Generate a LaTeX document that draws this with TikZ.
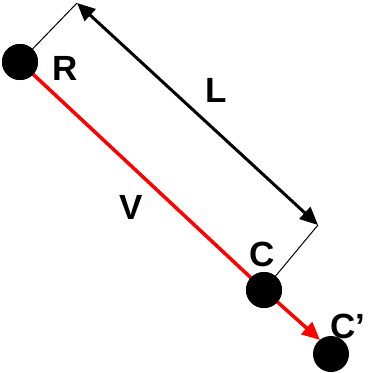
\documentclass[tikz,border=0pt]{standalone}
\usepackage{fontspec}
\setmainfont{Liberation Sans}
\usetikzlibrary{arrows.meta}
\begin{document}
\begin{tikzpicture}[x=1pt,y=-1pt,
  dot/.style={circle,fill=black,inner sep=0pt,minimum size=36pt},
  lbl/.style={font=\fontsize{35}{35}\selectfont\bfseries,inner sep=0pt},
  ext/.style={draw=black,line width=1pt},
  dim/.style={draw=black,line width=3pt,{Triangle[length=18pt,width=16pt]}-{Triangle[length=18pt,width=16pt]}},
  vel/.style={draw=red,line width=3.5pt}]
\useasboundingbox (0,0) rectangle (370,373);
\node[dot] (R) at (20,62) {};
\node[dot] (C) at (264,290) {};
\node[dot] (Cp) at (331,354) {};
\coordinate (T) at (77,3);
\coordinate (B) at (318,225);
\coordinate (Tip) at (320,340);
\draw[ext] (R.center) -- (T);
\draw[ext] (C.center) -- (B);
\draw[dim] (T) -- (B);
\draw[vel] (R.center) -- (C.center);
\draw[vel,-{Triangle[length=18pt,width=16pt]}] (C.center) -- (Tip);
\node[dot] at (R) {};
\node[dot] at (C) {};
\node[lbl] (lR) at (65,68) {R};
\node[lbl] (lL) at (216,90) {L};
\node[lbl] (lV) at (131,207) {V};
\node[lbl] (lC) at (262,254) {C};
\node[lbl] (lCp) at (348,326) {C’};
\end{tikzpicture}
\end{document}
